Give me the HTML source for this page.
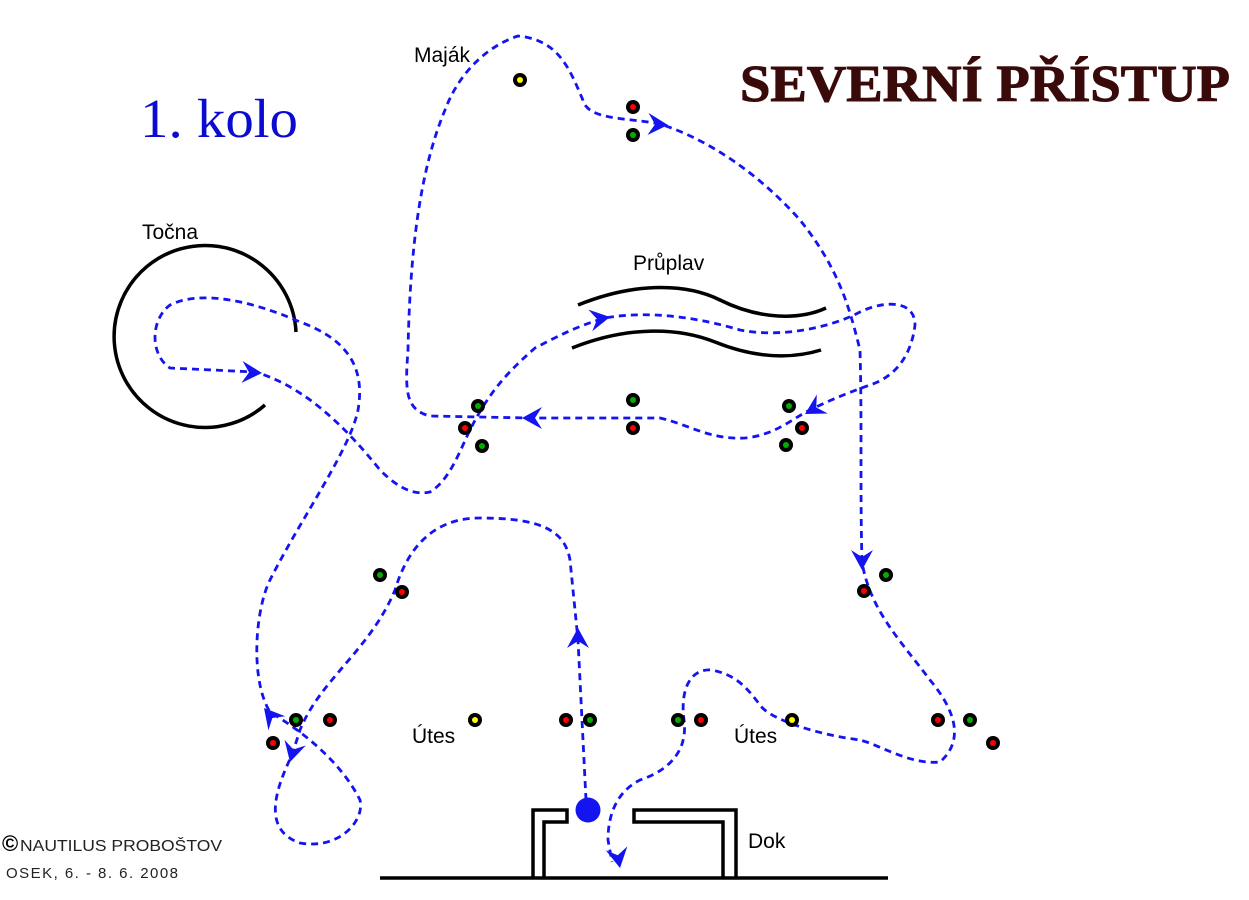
<!DOCTYPE html>
<html><head><meta charset="utf-8"><style>
html,body{margin:0;padding:0;background:#fff;}
svg{display:block;}
text{font-family:"Liberation Sans",sans-serif;}
</style></head><body>
<svg width="1249" height="900" viewBox="0 0 1249 900" xmlns="http://www.w3.org/2000/svg">
<defs>
<polygon id="ah" points="0,0 -20,-11 -13,0 -20,11" fill="#1414f0"/>
</defs>
<g fill="none" stroke="#000" stroke-width="3.5">
<path d="M296,332 A91,91 0 1 0 265,405"/>
<path d="M578,305 C640,280 690,285 720,300 C760,320 800,320 826,308"/>
<path d="M572,348 C630,325 680,328 715,342 C760,360 795,358 821,350"/>
</g>
<g fill="none" stroke="#000" stroke-width="3.5">
<path d="M533,878 V810 H567 V822 H544 V878"/>
<path d="M736,878 V810 H634 V822 H723 V878"/>
<path d="M380,878 H888"/>
</g>
<g fill="none" stroke="#1414f0" stroke-width="2.8" stroke-dasharray="7,5">
<path d="M586,800 L578,640 L570,560 C565,530 540,518 480,518 C440,518 410,540 395,590 C370,650 320,680 300,730 L292,755 C275,790 262,830 300,843 C340,850 365,820 360,800 C340,760 300,730 270,712 C250,680 255,610 270,580 C300,520 350,450 358,410 C365,370 350,340 300,322 C250,300 200,290 170,305 C150,320 150,355 170,368 L255,372 C300,385 340,420 380,470 C400,490 415,495 430,492 C450,480 460,450 470,430 C490,390 510,370 535,348 C560,335 580,325 605,318 C650,310 700,318 740,330 C780,338 830,328 860,312 C885,300 915,300 915,325 C912,350 900,375 870,385 C850,392 830,400 810,410 C790,420 775,435 745,438 C710,440 690,425 660,418 L530,418 L430,416 C405,410 405,390 408,350 C410,250 420,170 445,110 C460,70 490,45 518,36 C560,40 570,70 585,105 C595,120 630,118 660,124 C710,140 760,175 800,220 C840,270 850,310 860,350 C862,420 860,490 862,562 C870,610 900,640 930,680 C955,710 965,740 940,762 C910,765 880,745 860,740 C820,735 770,720 760,705 C745,685 735,675 712,670 C690,668 680,690 684,720 C688,750 670,770 640,780 C620,790 608,810 608,840 L612,862"/>
</g>
<use href="#ah" transform="translate(578,628) rotate(-90)"/>
<use href="#ah" transform="translate(290,762) rotate(105)"/>
<use href="#ah" transform="translate(264,708) rotate(-130)"/>
<use href="#ah" transform="translate(262,373) rotate(3)"/>
<use href="#ah" transform="translate(610,317) rotate(-10)"/>
<use href="#ah" transform="translate(805,414) rotate(150)"/>
<use href="#ah" transform="translate(522,418) rotate(180)"/>
<use href="#ah" transform="translate(668,125) rotate(3)"/>
<use href="#ah" transform="translate(862,570) rotate(90)"/>
<use href="#ah" transform="translate(620,868) rotate(80)"/>
<circle cx="588" cy="810" r="12.5" fill="#1414f0"/>
<g stroke="none">
<g fill="#000">
<circle cx="520" cy="80" r="7"/><circle cx="633" cy="107" r="7"/><circle cx="633" cy="135" r="7"/>
<circle cx="478" cy="406" r="7"/><circle cx="465" cy="428" r="7"/><circle cx="482" cy="446" r="7"/>
<circle cx="633" cy="400" r="7"/><circle cx="633" cy="428" r="7"/>
<circle cx="789" cy="406" r="7"/><circle cx="802" cy="428" r="7"/><circle cx="786" cy="445" r="7"/>
<circle cx="380" cy="575" r="7"/><circle cx="402" cy="592" r="7"/>
<circle cx="886" cy="575" r="7"/><circle cx="864" cy="591" r="7"/>
<circle cx="296" cy="720" r="7"/><circle cx="330" cy="720" r="7"/><circle cx="273" cy="743" r="7"/>
<circle cx="475" cy="720" r="7"/><circle cx="566" cy="720" r="7"/><circle cx="590" cy="720" r="7"/>
<circle cx="678" cy="720" r="7"/><circle cx="701" cy="720" r="7"/><circle cx="792" cy="720" r="7"/>
<circle cx="938" cy="720" r="7"/><circle cx="970" cy="720" r="7"/><circle cx="993" cy="743" r="7"/>
</g>
<g fill="#ffff00"><circle cx="520" cy="80" r="3"/><circle cx="475" cy="720" r="3"/><circle cx="792" cy="720" r="3"/></g>
<g fill="#ff0000">
<circle cx="633" cy="107" r="3"/><circle cx="465" cy="428" r="3"/><circle cx="633" cy="428" r="3"/><circle cx="802" cy="428" r="3"/>
<circle cx="402" cy="592" r="3"/><circle cx="864" cy="591" r="3"/><circle cx="330" cy="720" r="3"/><circle cx="273" cy="743" r="3"/>
<circle cx="566" cy="720" r="3"/><circle cx="701" cy="720" r="3"/><circle cx="938" cy="720" r="3"/><circle cx="993" cy="743" r="3"/>
</g>
<g fill="#00b000">
<circle cx="633" cy="135" r="3"/><circle cx="478" cy="406" r="3"/><circle cx="482" cy="446" r="3"/><circle cx="633" cy="400" r="3"/>
<circle cx="789" cy="406" r="3"/><circle cx="786" cy="445" r="3"/><circle cx="380" cy="575" r="3"/><circle cx="886" cy="575" r="3"/>
<circle cx="296" cy="720" r="3"/><circle cx="590" cy="720" r="3"/><circle cx="678" cy="720" r="3"/><circle cx="970" cy="720" r="3"/>
</g>
</g>
<text x="140" y="137" font-size="55" fill="#0a0ad0" style="font-family:'Liberation Serif',serif" textLength="158" lengthAdjust="spacingAndGlyphs">1. kolo</text>
<text x="740" y="101" font-size="52" font-weight="bold" fill="#3a0a0a" stroke="#3a0a0a" stroke-width="1" style="font-family:'Liberation Serif',serif" textLength="490" lengthAdjust="spacingAndGlyphs">SEVERNÍ PŘÍSTUP</text>
<text x="414" y="62" font-size="21">Maják</text>
<text x="142" y="239" font-size="21">Točna</text>
<text x="633" y="270" font-size="21">Průplav</text>
<text x="412" y="743" font-size="21">Útes</text>
<text x="734" y="743" font-size="21">Útes</text>
<text x="748" y="848" font-size="21">Dok</text>
<text x="2" y="851" font-size="22" font-weight="bold">©</text>
<text x="20" y="851" font-size="16" fill="#222" textLength="202" lengthAdjust="spacingAndGlyphs">NAUTILUS PROBOŠTOV</text>
<text x="6" y="878" font-size="15" fill="#222" textLength="172" lengthAdjust="spacing">OSEK,  6. - 8. 6. 2008</text>
</svg>
</body></html>
